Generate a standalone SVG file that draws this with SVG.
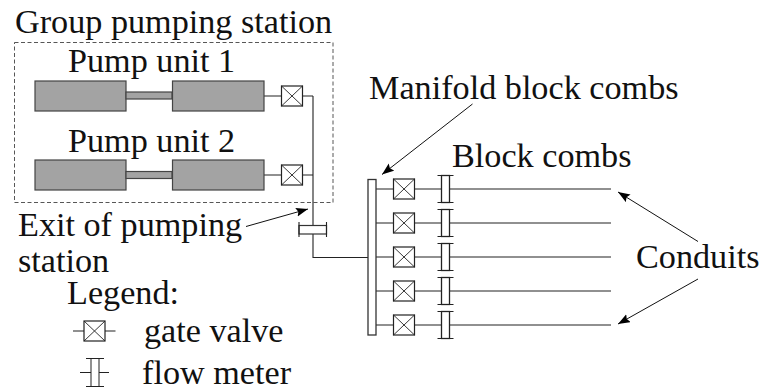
<svg xmlns="http://www.w3.org/2000/svg" width="760" height="390" viewBox="0 0 760 390">
<defs>
<marker id="ah" markerUnits="userSpaceOnUse" markerWidth="14" markerHeight="10" refX="12" refY="4.500" orient="auto"><path d="M0 0L12 4.500L0 9L2 4.500Z" fill="#000"/></marker>
<g id="valve"><rect x="-10.500" y="-10" width="21" height="20" fill="#fff" stroke="#222" stroke-width="1.200"/><path d="M-10.500 -10L10.500 10M-10.500 10L10.500 -10" stroke="#222" stroke-width="0.900" fill="none"/></g>
<g id="meter"><rect x="-4" y="-13.500" width="8" height="27" fill="#fff" stroke="#222" stroke-width="1.300"/><path d="M-8 -13.500H8M-8 13.500H8" stroke="#222" stroke-width="1.100" fill="none"/></g>
</defs>
<style>
text{font-family:"Liberation Serif","Times New Roman",serif;font-size:34.200px;fill:#111}
.l{stroke:#222;stroke-width:1.100;fill:none}
.a{stroke:#111;stroke-width:1;fill:none;marker-end:url(#ah)}
.p{fill:#a3a3a3;stroke:#444;stroke-width:1.200}
</style>
<rect id="station" x="14.500" y="42.500" width="318.500" height="160" fill="none" stroke="#444" stroke-width="0.900" stroke-dasharray="4 2.500"/>
<g id="connectors">
<path class="l" d="M264 96H282M302 96H313M264 175H282M302 175H313M313 96V257.500H368"/>
<path class="l" d="M376 189H394M414 189H442M450 189H611"/>
<path class="l" d="M376 223H394M414 223H442M450 223H611"/>
<path class="l" d="M376 257H394M414 257H442M450 257H611"/>
<path class="l" d="M376 291H394M414 291H442M450 291H611"/>
<path class="l" d="M376 325H394M414 325H442M450 325H611"/>
<path class="a" d="M246 226.500L308 209"/>
<path class="a" d="M472.500 104L382 174.500"/>
<path class="a" d="M698 241.500L618 192"/>
<path class="a" d="M698 279L618 324"/>
</g>
<g id="pump1"><rect class="p" x="35" y="81" width="91" height="30"/><rect class="p" x="126" y="92" width="46" height="7"/><rect class="p" x="172.500" y="81" width="91.500" height="30"/></g>
<g id="pump2"><rect class="p" x="35" y="160" width="91" height="30"/><rect class="p" x="126" y="171.500" width="46" height="7"/><rect class="p" x="172.500" y="160" width="91.500" height="30"/></g>
<g id="station-valves"><use href="#valve" x="292" y="96"/><use href="#valve" x="292" y="175"/></g>
<g id="exit-meter"><rect x="299" y="225.500" width="27.500" height="8.500" fill="#fff" stroke="#333" stroke-width="1.200"/><path class="l" d="M299 222V237M326.500 222V237"/></g>
<g id="manifold"><rect x="368" y="179.500" width="8" height="155.500" fill="#fff" stroke="#333" stroke-width="1.300"/></g>
<g id="valves"><use href="#valve" x="404" y="189"/><use href="#valve" x="404" y="223"/><use href="#valve" x="404" y="257"/><use href="#valve" x="404" y="291"/><use href="#valve" x="404" y="325"/></g>
<g id="meters"><use href="#meter" x="445.500" y="189"/><use href="#meter" x="445.500" y="223"/><use href="#meter" x="445.500" y="257"/><use href="#meter" x="445.500" y="291"/><use href="#meter" x="445.500" y="325"/></g>
<g id="legend">
<path class="l" d="M73 331H84M105 331H115.500"/><use href="#valve" x="94.500" y="331"/>
<path class="l" d="M80 372.500H91M99 372.500H109"/><rect x="91" y="358.500" width="8" height="28" fill="#fff" stroke="#222" stroke-width="1"/><path class="l" d="M86 358.500H104M86 386.500H104"/>
</g>
<g id="labels">
<text x="15" y="33">Group pumping station</text>
<text x="68" y="71.500">Pump unit 1</text>
<text x="68" y="151.500">Pump unit 2</text>
<text x="369" y="99">Manifold block combs</text>
<text x="452" y="167">Block combs</text>
<text x="636" y="267.500">Conduits</text>
<text x="18" y="236">Exit of pumping</text>
<text x="18" y="271.500">station</text>
<text x="67" y="304">Legend:</text>
<text x="144" y="342">gate valve</text>
<text x="142" y="384">flow meter</text>
</g>
</svg>
